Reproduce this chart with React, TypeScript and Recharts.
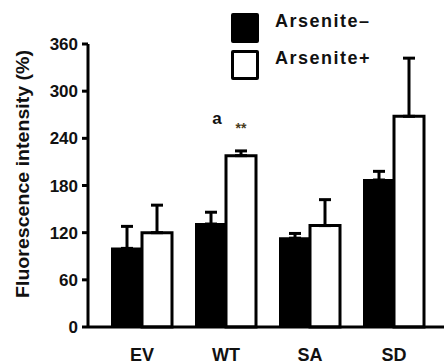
import { BarChart, Bar, XAxis, YAxis, ErrorBar, LabelList } from "recharts";

const groups = ["EV", "WT", "SA", "SD"];
const arseniteMinus = [100, 131, 113, 187];
const arseniteMinusErr = [28, 15, 6, 11];
const arsenitePlus = [120, 218, 129, 268];
const arsenitePlusErr = [35, 6, 33, 74];
const marksMinus = ["", "a", "", ""];
const marksPlus = ["", "**", "", ""];
const yTicks = [0, 60, 120, 180, 240, 300, 360];
const legendLabels = ["Arsenite\u2013", "Arsenite+"];

const data = groups.map((g, i) => ({
  name: g,
  minus: arseniteMinus[i],
  minusErr: [0, arseniteMinusErr[i]],
  plus: arsenitePlus[i],
  plusErr: [0, arsenitePlusErr[i]],
  markB: marksPlus[i],
}));

const FONT = "'Liberation Sans', Arial, sans-serif";

function LegendBox() {
  const item = (label: string, filled: boolean, top: number) => (
    <div key={label} style={{ position: "absolute", left: 231, top }}>
      <div
        style={{
          position: "absolute",
          left: 0,
          top: 0,
          width: 28,
          height: 30,
          boxSizing: "border-box",
          background: filled ? "#000" : "#fff",
          border: "3px solid #000",
          borderRadius: 2,
        }}
      />
      <div
        style={{
          position: "absolute",
          left: 44,
          top: -3,
          fontFamily: FONT,
          fontWeight: "bold",
          fontSize: 18,
          letterSpacing: 1.5,
          color: "#111",
          whiteSpace: "nowrap",
          lineHeight: "22px",
        }}
      >
        {label}
      </div>
    </div>
  );
  return (
    <div style={{ position: "absolute", left: 0, top: 0, width: 444, height: 90 }}>
      {item(legendLabels[0], true, 13)}
      {item(legendLabels[1], false, 50)}
    </div>
  );
}

function Marks(props: any) {
  const { x, y, width, index } = props;
  const a = marksMinus[index];
  const b = marksPlus[index];
  if (!a && !b) return null;
  return (
    <g>
      <text
        x={x - width / 2 + 6}
        y={y - 32}
        textAnchor="middle"
        fontFamily={FONT}
        fontWeight="bold"
        fontSize={17}
        fill="#111"
      >
        {a}
      </text>
      <text
        x={x + width / 2}
        y={y - 23}
        textAnchor="middle"
        fontFamily={FONT}
        fontWeight="bold"
        fontSize={14}
        fill="#4a3c1c"
      >
        {b}
      </text>
    </g>
  );
}

function YLabel() {
  const cx = 29;
  const cy = 174;
  return (
    <text
      x={cx}
      y={cy}
      transform={`rotate(-90, ${cx}, ${cy})`}
      textAnchor="middle"
      fontFamily={FONT}
      fontWeight="bold"
      fontSize={18}
      fill="#111"
      textLength={248}
      lengthAdjust="spacingAndGlyphs"
    >
      Fluorescence intensity (%)
    </text>
  );
}

export default function App() {
  return (
    <div style={{ position: "absolute", left: 0, top: 0, width: 444, height: 364, background: "#fff" }}>
      <BarChart
        width={444}
        height={364}
        data={data}
        margin={{ top: 44, right: 0, bottom: 0, left: 0 }}
        barGap={0}
        barSize={30}
      >
        <XAxis
          dataKey="name"
          height={37}
          padding={{ left: 12, right: 8 }}
          axisLine={{ stroke: "#000", strokeWidth: 3 }}
          tickLine={false}
          tickSize={0}
          tickMargin={21}
          tick={{ fill: "#111", fontFamily: FONT, fontWeight: "bold", fontSize: 18 }}
        />
        <YAxis
          width={88}
          domain={[0, 360]}
          ticks={yTicks}
          interval={0}
          axisLine={{ stroke: "#000", strokeWidth: 3 }}
          tickLine={{ stroke: "#000", strokeWidth: 3 }}
          tickSize={6}
          tickMargin={4}
          tick={{ fill: "#111", fontFamily: FONT, fontWeight: "bold", fontSize: 17 }}
          label={<YLabel />}
        />
        <Bar dataKey="minus" fill="#000" stroke="#000" strokeWidth={2} isAnimationActive={false}>
          <ErrorBar dataKey="minusErr" width={6} stroke="#000" strokeWidth={3} direction="y" />
        </Bar>
        <Bar dataKey="plus" fill="#fff" stroke="#000" strokeWidth={3} isAnimationActive={false}>
          <ErrorBar dataKey="plusErr" width={6} stroke="#000" strokeWidth={3} direction="y" />
          <LabelList dataKey="markB" content={<Marks />} />
        </Bar>
      </BarChart>
      <LegendBox />
    </div>
  );
}
